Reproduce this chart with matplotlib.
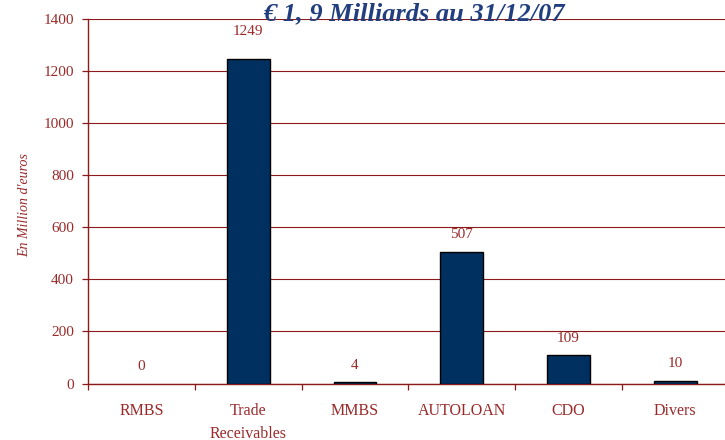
import matplotlib
matplotlib.use("Agg")
import matplotlib.pyplot as plt
from matplotlib.ticker import FixedLocator

categories = ["RMBS", "Trade\nReceivables", "MMBS", "AUTOLOAN", "CDO", "Divers"]
values = [0, 1249, 4, 507, 109, 10]
label_offsets_px = [17, 27, 17, 17, 17, 17]
yticks = [0, 200, 400, 600, 800, 1000, 1200, 1400]
title = "€ 1, 9 Milliards au 31/12/07"
ylabel = "En Million d'euros"

red = "#9a2a2a"
grid_red = "#8b1a1a"
navy = "#003060"
title_blue = "#213f7f"

plt.rcParams['font.family'] = ['Liberation Serif', 'DejaVu Serif']

fig = plt.figure(figsize=(7.25, 4.40), dpi=100)
ax = fig.add_axes([88/725, 56.5/440, 640.8/725, 364.2/440])

x = list(range(len(categories)))
lws = [0 if v == 0 else 1.0 for v in values]
ax.bar(x, values, width=0.4, color=navy, edgecolor="black", linewidth=lws, zorder=3)

for xi, v, off in zip(x, values, label_offsets_px):
    ax.annotate(str(v), (xi, v), xytext=(0, off * 72 / 100), textcoords="offset points",
                ha="center", va="center", color=red, fontsize=11)

ax.set_xlim(-0.5, len(categories) - 0.5)
ax.set_ylim(0, 1400)
ax.yaxis.set_major_locator(FixedLocator(yticks))
ax.set_yticklabels([str(t) for t in yticks])
ax.grid(axis="y", color=grid_red, linewidth=0.8, zorder=0)
ax.set_axisbelow(True)

ax.xaxis.set_major_locator(FixedLocator([i - 0.5 for i in range(len(categories) + 1)]))
ax.xaxis.set_minor_locator(FixedLocator(x))
ax.set_xticklabels([])
ax.set_xticklabels(categories, minor=True, linespacing=1.55)
ax.tick_params(axis="x", which="major", direction="out", length=4.5, width=0.9, color=grid_red)
ax.tick_params(axis="x", which="minor", length=0, pad=14, labelcolor=red, labelsize=11.5)
ax.tick_params(axis="y", direction="out", length=4, width=0.9, color=grid_red, pad=6,
               labelcolor=red, labelsize=11)

for s in ["top", "right"]:
    ax.spines[s].set_visible(False)
for s in ["left", "bottom"]:
    ax.spines[s].set_color(grid_red)
    ax.spines[s].set_linewidth(1.0)

ax.set_ylabel(ylabel, color=red, fontsize=10, style="italic")
ax.yaxis.set_label_coords(-(88 - 31) / 640.8, 0.49)

fig.text(414/725, 1 - 14/440, title, ha="center", va="center", fontsize=19,
         fontweight="bold", style="italic", color=title_blue)

fig.savefig("out.png", dpi=100)
